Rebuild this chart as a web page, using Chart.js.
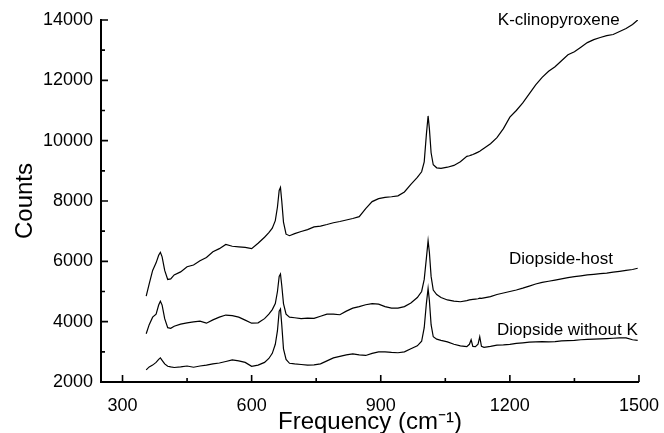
<!DOCTYPE html>
<html>
<head>
<meta charset="utf-8">
<script src="https://cdn.jsdelivr.net/npm/chart.js@4"></script>
<style>
  html, body { margin: 0; padding: 0; background: #fff; }
  #wrap { width: 664px; height: 433px; }
</style>
</head>
<body>
<div id="wrap"><canvas id="chartCanvas" width="664" height="433"></canvas></div>
<script>
// Raman frequency (cm-1), shared by the three spectra
const frequency = [
    355, 362, 370, 378, 384, 388, 392, 398, 405, 412,
    420, 435, 450, 465, 480, 495, 510, 525, 540, 555,
    570, 585, 600, 615, 630, 640, 648, 655, 660, 664,
    667, 670, 674, 680, 688, 700, 715, 730, 745, 760,
    775, 790, 805, 820, 835, 850, 865, 880, 895, 910,
    925, 940, 955, 970, 985, 995, 1001, 1006, 1010, 1013,
    1017, 1022, 1030, 1040, 1055, 1070, 1085, 1100, 1106, 1110,
    1114, 1120, 1126, 1130, 1134, 1140, 1155, 1170, 1185, 1200,
    1215, 1230, 1245, 1260, 1275, 1290, 1305, 1320, 1335, 1350,
    1365, 1380, 1395, 1410, 1425, 1440, 1455, 1470, 1485, 1497
];

const kClinopyroxene = [
    4850, 5250, 5700, 5950, 6200, 6300, 6150, 5700, 5400, 5420,
    5550, 5650, 5820, 5880, 6020, 6130, 6320, 6420, 6560, 6500,
    6480, 6460, 6420, 6600, 6800, 6950, 7100, 7350, 7800, 8350,
    8450, 8000, 7300, 6900, 6850, 6920, 6990, 7050, 7140, 7170,
    7220, 7280, 7320, 7370, 7420, 7480, 7750, 7980, 8080, 8120,
    8140, 8170, 8300, 8550, 8780, 8970, 9300, 10200, 10820, 10400,
    9600, 9200, 9100, 9080, 9120, 9180, 9300, 9480, 9500, 9520,
    9540, 9580, 9620, 9650, 9690, 9750, 9900, 10100, 10400, 10780,
    11000, 11250, 11550, 11850, 12100, 12300, 12450, 12650, 12850, 12950,
    13100, 13250, 13350, 13420, 13480, 13520, 13620, 13720, 13850, 14000
];

const diopsideHost = [
    3600, 3900, 4150, 4250, 4550, 4680, 4550, 4100, 3800, 3780,
    3850, 3920, 3960, 3990, 4020, 3950, 4060, 4150, 4220, 4200,
    4150, 4050, 3950, 3960, 4100, 4250, 4400, 4600, 5000, 5500,
    5580, 5200, 4600, 4250, 4150, 4130, 4100, 4120, 4110, 4180,
    4250, 4250, 4230, 4350, 4450, 4500, 4560, 4600, 4580, 4500,
    4450, 4450, 4500, 4620, 4800, 5000, 5400, 6100, 6680, 6300,
    5500, 5050, 4900, 4800, 4720, 4680, 4660, 4700, 4720, 4730,
    4740, 4750, 4760, 4780, 4770, 4790, 4830, 4900, 4950, 5000,
    5050, 5110, 5180, 5250, 5300, 5340, 5380, 5420, 5460, 5490,
    5520, 5550, 5570, 5590, 5610, 5640, 5670, 5700, 5730, 5770
];

const diopsideWithoutK = [
    2400, 2500, 2560, 2650, 2750, 2800, 2720, 2600, 2520, 2500,
    2480, 2500, 2530, 2490, 2530, 2560, 2600, 2630, 2680, 2730,
    2700, 2650, 2520, 2560, 2650, 2780, 2950, 3250, 3700, 4350,
    4420, 3900, 3100, 2750, 2620, 2600, 2580, 2560, 2570, 2600,
    2700, 2800, 2850, 2900, 2930, 2900, 2880, 2950, 3000, 3000,
    2980, 2970, 3000, 3100, 3200, 3350, 3800, 4600, 5100, 4700,
    3900, 3500, 3420, 3380, 3330, 3250, 3200, 3170, 3250, 3400,
    3180, 3170, 3250, 3500, 3180, 3150, 3180, 3220, 3230, 3250,
    3280, 3300, 3320, 3330, 3340, 3330, 3340, 3360, 3370, 3380,
    3400, 3410, 3420, 3430, 3440, 3450, 3460, 3460, 3400, 3380
];

const xTicks = [300, 600, 900, 1200, 1500];
const xMinorTicks = [450, 750, 1050, 1350];
const yTicks = [2000, 4000, 6000, 8000, 10000, 12000, 14000];
const yMinorTicks = [3000, 5000, 7000, 9000, 11000, 13000];

// curve names and where they sit (data coords, left edge / vertical middle)
const curveNames = ['K-clinopyroxene', 'Diopside-host', 'Diopside without K'];
const nameX = [1172, 1198, 1170];
const nameY = [14000, 6080, 3720];

const FONT = 'Arial, "Liberation Sans", sans-serif';

function toPoints(values) {
    return frequency.map((f, i) => ({ x: f, y: values[i] }));
}

const innerTicks = {
    id: 'innerTicks',
    afterDraw(chart) {
        const ctx = chart.ctx;
        const xs = chart.scales.x;
        const ys = chart.scales.y;
        const area = chart.chartArea;
        ctx.save();
        ctx.strokeStyle = '#000';
        ctx.lineWidth = 1.6;
        ctx.beginPath();
        xTicks.forEach(v => {
            const px = xs.getPixelForValue(v);
            ctx.moveTo(px, area.bottom);
            ctx.lineTo(px, area.bottom - 7);
        });
        xMinorTicks.forEach(v => {
            const px = xs.getPixelForValue(v);
            ctx.moveTo(px, area.bottom);
            ctx.lineTo(px, area.bottom - 4);
        });
        yTicks.forEach(v => {
            const py = ys.getPixelForValue(v);
            ctx.moveTo(area.left, py);
            ctx.lineTo(area.left + 7, py);
        });
        yMinorTicks.forEach(v => {
            const py = ys.getPixelForValue(v);
            ctx.moveTo(area.left, py);
            ctx.lineTo(area.left + 4, py);
        });
        ctx.stroke();

        // curve names
        ctx.fillStyle = '#000';
        ctx.font = '17px ' + FONT;
        ctx.textAlign = 'left';
        ctx.textBaseline = 'middle';
        curveNames.forEach((name, i) => {
            ctx.fillText(name, xs.getPixelForValue(nameX[i]), ys.getPixelForValue(nameY[i]));
        });
        ctx.restore();
    }
};

const lineStyle = {
    borderColor: '#000',
    borderWidth: 1.2,
    pointRadius: 0,
    tension: 0,
    fill: false
};

const ctx = document.getElementById('chartCanvas').getContext('2d');
new Chart(ctx, {
    type: 'line',
    data: {
        datasets: [
            { label: curveNames[0], data: toPoints(kClinopyroxene), ...lineStyle },
            { label: curveNames[1], data: toPoints(diopsideHost), ...lineStyle },
            { label: curveNames[2], data: toPoints(diopsideWithoutK), ...lineStyle }
        ]
    },
    options: {
        responsive: false,
        animation: false,
        layout: { padding: { top: 20, right: 23, left: 0, bottom: 0 } },
        plugins: {
            legend: { display: false },
            tooltip: { enabled: false }
        },
        scales: {
            x: {
                type: 'linear',
                min: 250,
                max: 1500,
                afterBuildTicks: s => { s.ticks = xTicks.map(v => ({ value: v })); },
                afterFit: s => { s.height = 51; },
                grid: { display: false },
                border: { display: true, color: '#000', width: 2 },
                ticks: {
                    color: '#000',
                    font: { family: FONT, size: 18 },
                    maxRotation: 0,
                    padding: 5,
                    callback: v => String(v)
                },
                title: {
                    display: true,
                    text: 'Frequency (cm⁻¹)',
                    color: '#000',
                    font: { family: FONT, size: 24 },
                    padding: { top: 0, bottom: -4 }
                }
            },
            y: {
                type: 'linear',
                min: 2000,
                max: 14000,
                afterBuildTicks: s => { s.ticks = yTicks.map(v => ({ value: v })); },
                afterFit: s => { s.width = 101; },
                grid: { display: false },
                border: { display: true, color: '#000', width: 2 },
                ticks: {
                    color: '#000',
                    font: { family: FONT, size: 18 },
                    padding: 0,
                    callback: v => String(v)
                },
                title: {
                    display: true,
                    text: 'Counts',
                    color: '#000',
                    font: { family: FONT, size: 24 },
                    padding: { top: 11, bottom: 0 }
                }
            }
        }
    },
    plugins: [innerTicks]
});
</script>
</body>
</html>
